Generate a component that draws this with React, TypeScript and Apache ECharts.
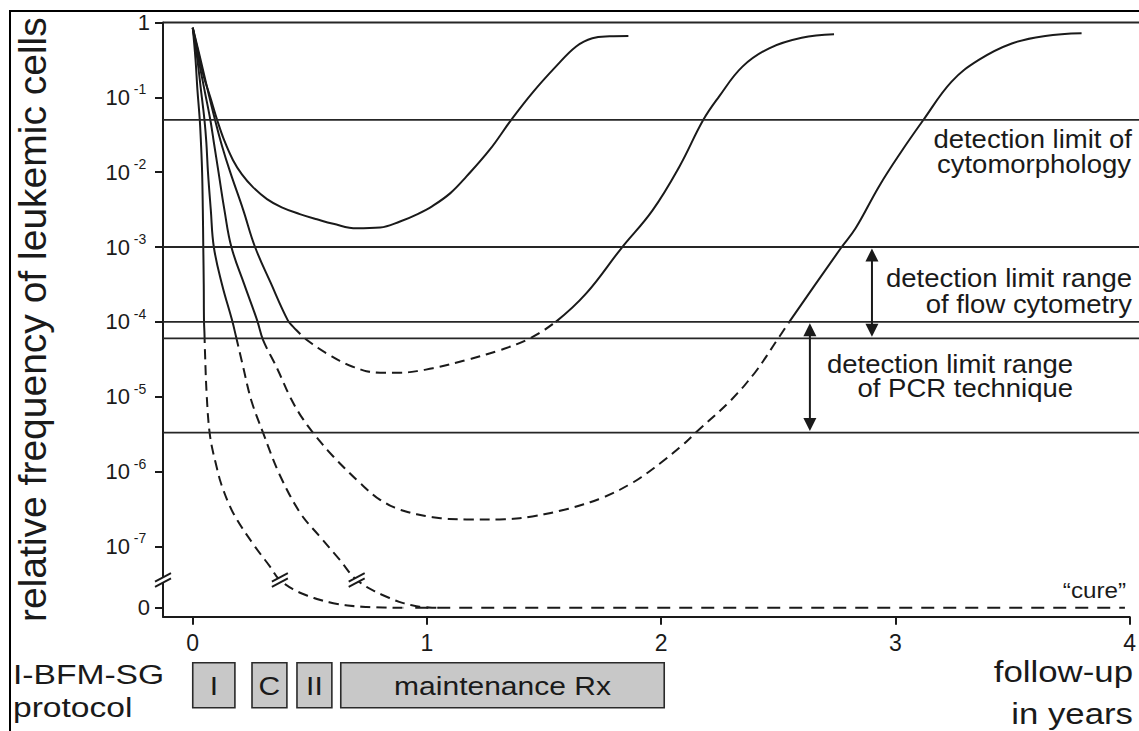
import React, { useEffect, useRef } from 'react';
import * as echarts from 'echarts';

// ---- axis setup (y values are log10 of the relative frequency; ZERO stands for "0") ----
const X_MIN = -0.127;
const X_MAX = 4;
const Y_MIN = -7.94;
const ZERO = -7.82;
const xTicks = [0, 1, 2, 3, 4];
const yTicks = [0, -1, -2, -3, -4, -5, -6, -7, ZERO];

// horizontal limit lines (log10 values)
const limitLevels = [0, -1.3, -3, -4, -4.22, -5.48];

// double arrows: [x, from, to]
const rangeArrows = [
  [2.9, -3, -4.22],
  [2.635, -4, -5.48],
];

// axis / curve break marks
const breakMarks = [
  [X_MIN, -7.45],
  [0.372, -7.45],
  [0.7, -7.45],
];

// treatment protocol phases [start, end]
const phaseRanges = [
  [0.0, 0.18],
  [0.253, 0.402],
  [0.445, 0.594],
  [0.632, 2.013],
];
const phaseLabels = ['I', 'C', 'II', 'maintenance Rx'];

// ---- curves (x in years, y = log10 frequency) ----
const curveA = [
  [0.0, -0.07], [0.02, -0.35], [0.045, -0.7], [0.075, -1.0], [0.104, -1.3], [0.135, -1.58],
  [0.172, -1.84], [0.21, -2.03], [0.257, -2.2], [0.317, -2.36], [0.38, -2.47], [0.457, -2.56],
  [0.53, -2.63], [0.6, -2.69], [0.7, -2.75], [0.8, -2.74], [0.885, -2.66], [0.96, -2.56],
  [1.025, -2.45], [1.1, -2.28], [1.168, -2.06], [1.268, -1.7], [1.36, -1.3], [1.45, -0.94],
  [1.55, -0.59], [1.637, -0.32], [1.706, -0.21], [1.78, -0.185], [1.86, -0.18],
];
const curveB = [
  [0.0, -0.07], [0.03, -0.45], [0.06, -0.85], [0.095, -1.3], [0.125, -1.65], [0.16, -2.0],
  [0.215, -2.5], [0.266, -3.0], [0.333, -3.48], [0.406, -3.98], [0.43, -4.07], [0.486, -4.24],
  [0.571, -4.42], [0.683, -4.6], [0.8, -4.68], [0.885, -4.68], [1.025, -4.62], [1.168, -4.51],
  [1.31, -4.38], [1.44, -4.22], [1.55, -4.0], [1.68, -3.62], [1.829, -3.02], [1.963, -2.51],
  [2.077, -1.93], [2.18, -1.3], [2.247, -0.99], [2.347, -0.59], [2.461, -0.345], [2.6, -0.205],
  [2.738, -0.158],
];
const curveC = [
  [0.0, -0.07], [0.025, -0.5], [0.05, -0.9], [0.075, -1.3], [0.09, -1.6], [0.11, -2.0],
  [0.135, -2.5], [0.165, -3.0], [0.22, -3.5], [0.275, -3.98], [0.3, -4.24], [0.36, -4.62],
  [0.415, -5.0], [0.46, -5.25], [0.513, -5.48], [0.6, -5.8], [0.713, -6.15], [0.8, -6.38],
  [0.885, -6.51], [1.025, -6.61], [1.17, -6.64], [1.31, -6.64], [1.45, -6.6], [1.6, -6.5],
  [1.75, -6.35], [1.878, -6.15], [2.0, -5.88], [2.09, -5.65], [2.148, -5.48], [2.3, -5.04],
  [2.4, -4.68], [2.5, -4.22], [2.547, -4.0], [2.766, -3.02], [2.83, -2.75], [2.93, -2.19],
  [3.02, -1.75], [3.12, -1.3], [3.24, -0.79], [3.356, -0.5], [3.497, -0.28], [3.64, -0.18],
  [3.795, -0.145],
];
const curveD = [
  [0.0, -0.07], [0.02, -0.5], [0.035, -0.9], [0.05, -1.3], [0.058, -1.6], [0.065, -2.0],
  [0.077, -2.5], [0.09, -3.0], [0.125, -3.5], [0.168, -3.98], [0.185, -4.2], [0.215, -4.6],
  [0.25, -5.05], [0.3, -5.48], [0.372, -6.05], [0.458, -6.55], [0.543, -6.87], [0.628, -7.18],
  [0.7, -7.45], [0.81, -7.65], [0.955, -7.8], [1.05, -7.82],
];
const curveE = [
  [0.0, -0.07], [0.012, -0.5], [0.02, -0.9], [0.03, -1.3], [0.035, -1.6], [0.04, -2.0],
  [0.043, -2.5], [0.045, -3.0], [0.047, -3.5], [0.048, -3.98], [0.05, -4.15], [0.052, -4.38],
  [0.06, -5.0], [0.074, -5.53], [0.102, -5.94], [0.125, -6.2], [0.172, -6.55], [0.258, -6.97],
  [0.33, -7.27], [0.372, -7.45], [0.458, -7.62], [0.6, -7.76], [0.74, -7.81], [0.9, -7.82],
];
// x-ranges of each curve drawn dashed (below the detection limit)
const dashedB = [0.43, 1.55];
const dashedC = [0.3, 2.547];
const dashedD = [0.185, 1.05];
const dashedE = [0.05, 0.9];
const cureLine = [
  [0.95, ZERO], [3.98, ZERO],
];

const FONT = "'Liberation Sans', Arial, Helvetica, sans-serif";
const INK = '#1a1a1a';
const SMOOTH = 0.4;

function curve(data: number[][]) {
  return {
    type: 'line',
    data,
    smooth: SMOOTH,
    symbol: 'none',
    silent: true,
    z: 3,
    lineStyle: { color: INK, width: 2, type: 'solid' },
  };
}

// white dashes laid over the same path turn the solid stroke into a dashed one
function dashMask(data: number[][], range: number[]) {
  return {
    type: 'line',
    data: data.filter((p) => p[0] >= range[0] - 1e-9 && p[0] <= range[1] + 1e-9),
    smooth: SMOOTH,
    symbol: 'none',
    silent: true,
    z: 4,
    lineStyle: { color: '#ffffff', width: 6, type: [6, 10], dashOffset: 6, cap: 'butt' },
  };
}

function txt(text: string, x: number, y: number, size: number, align: string, sx: number) {
  return {
    type: 'text',
    x,
    y,
    scaleX: sx,
    z: 20,
    style: {
      text,
      fontSize: size,
      fontFamily: FONT,
      fill: INK,
      align,
      verticalAlign: 'middle',
    },
  };
}

function fmtY(v: number) {
  if (Math.abs(v) < 1e-9) return '1';
  if (Math.abs(v - ZERO) < 1e-6) return '0';
  return '{b|10}{s|-' + Math.round(-v) + '}';
}

export default function App() {
  const ref = useRef<HTMLDivElement>(null);

  useEffect(() => {
    if (!ref.current) return;
    const chart = echarts.init(ref.current, null, { renderer: 'svg' });

    const option: any = {
      animation: false,
      backgroundColor: '#ffffff',
      grid: { left: 163, right: 8, top: 22.5, bottom: 114.3, containLabel: false },
      xAxis: {
        type: 'value',
        min: X_MIN,
        max: X_MAX,
        splitLine: { show: false },
        axisLine: { show: true, onZero: false, lineStyle: { color: INK, width: 2 } },
        axisTick: { show: true, length: 8, customValues: xTicks, lineStyle: { color: INK, width: 2 } },
        axisLabel: { customValues: xTicks, margin: 15, fontSize: 23, color: INK, fontFamily: FONT },
      },
      yAxis: {
        type: 'value',
        min: Y_MIN,
        max: 0,
        splitLine: { show: false },
        axisLine: { show: true, onZero: false, lineStyle: { color: INK, width: 2 } },
        axisTick: { show: true, length: 8, customValues: yTicks, lineStyle: { color: INK, width: 2 } },
        axisLabel: {
          customValues: yTicks,
          margin: 13,
          fontSize: 22,
          color: INK,
          fontFamily: FONT,
          formatter: fmtY,
          rich: {
            b: { fontSize: 22, fontFamily: FONT, color: INK },
            s: { fontSize: 14, padding: [0, 0, 16, 0], width: 20, align: 'left', fontFamily: FONT, color: INK },
          },
        },
        name: 'relative frequency of leukemic cells',
        nameLocation: 'middle',
        nameRotate: 90,
        nameGap: 111,
        nameTextStyle: { fontSize: 39, color: INK, fontFamily: FONT },
      },
      series: [
        curve(curveA),
        curve(curveB),
        curve(curveC),
        curve(curveD),
        curve(curveE),
        dashMask(curveB, dashedB),
        dashMask(curveC, dashedC),
        dashMask(curveD, dashedD),
        dashMask(curveE, dashedE),
        {
          type: 'line',
          data: cureLine,
          symbol: 'none',
          silent: true,
          z: 5,
          lineStyle: { color: INK, width: 2, type: [13, 9] },
        },
        // horizontal detection limit lines
        {
          type: 'custom',
          clip: false,
          silent: true,
          z: 6,
          data: limitLevels.map((v) => [X_MIN, v]),
          encode: { x: 0, y: 1 },
          renderItem: (params: any, api: any) => {
            const p = api.coord([api.value(0), api.value(1)]);
            return {
              type: 'line',
              shape: { x1: p[0], y1: p[1], x2: api.getWidth(), y2: p[1] },
              style: { stroke: '#262626', lineWidth: 1.8 },
            };
          },
        },
        // break marks
        {
          type: 'custom',
          clip: false,
          silent: true,
          z: 10,
          data: breakMarks,
          encode: { x: 0, y: 1 },
          renderItem: (params: any, api: any) => {
            const p = api.coord([api.value(0), api.value(1)]);
            const dx = 8, dy = 4.2, off = 2.6;
            return {
              type: 'group',
              children: [
                {
                  type: 'polygon',
                  shape: {
                    points: [
                      [p[0] - dx, p[1] + dy - off],
                      [p[0] + dx, p[1] - dy - off],
                      [p[0] + dx, p[1] - dy + off],
                      [p[0] - dx, p[1] + dy + off],
                    ],
                  },
                  style: { fill: '#ffffff' },
                },
                {
                  type: 'line',
                  shape: { x1: p[0] - dx, y1: p[1] + dy - off, x2: p[0] + dx, y2: p[1] - dy - off },
                  style: { stroke: INK, lineWidth: 2 },
                },
                {
                  type: 'line',
                  shape: { x1: p[0] - dx, y1: p[1] + dy + off, x2: p[0] + dx, y2: p[1] - dy + off },
                  style: { stroke: INK, lineWidth: 2 },
                },
              ],
            };
          },
        },
        // double arrows
        {
          type: 'custom',
          clip: false,
          silent: true,
          z: 10,
          data: rangeArrows,
          encode: { x: 0, y: [1, 2] },
          renderItem: (params: any, api: any) => {
            const a = api.coord([api.value(0), api.value(1)]);
            const b = api.coord([api.value(0), api.value(2)]);
            const x = a[0];
            const t = a[1] + 1.5;
            const u = b[1] - 1.5;
            const hl = 13, hw = 6.5;
            return {
              type: 'group',
              children: [
                {
                  type: 'line',
                  shape: { x1: x, y1: t + hl - 2, x2: x, y2: u - hl + 2 },
                  style: { stroke: INK, lineWidth: 2 },
                },
                {
                  type: 'polygon',
                  shape: { points: [[x, t], [x - hw, t + hl], [x + hw, t + hl]] },
                  style: { fill: INK },
                },
                {
                  type: 'polygon',
                  shape: { points: [[x, u], [x - hw, u - hl], [x + hw, u - hl]] },
                  style: { fill: INK },
                },
              ],
            };
          },
        },
        // protocol phases
        {
          type: 'custom',
          clip: false,
          silent: true,
          z: 10,
          data: phaseRanges.map((r) => [r[0], r[1], ZERO]),
          encode: { x: [0, 1], y: 2 },
          renderItem: (params: any, api: any) => {
            const x0 = api.coord([api.value(0), Y_MIN])[0];
            const x1 = api.coord([api.value(1), Y_MIN])[0];
            const base = api.coord([api.value(0), Y_MIN])[1];
            const top = base + 46;
            const h = 45;
            const cx = (x0 + x1) / 2;
            const cy = top + h / 2 + 1;
            return {
              type: 'group',
              children: [
                {
                  type: 'rect',
                  shape: { x: x0, y: top, width: x1 - x0, height: h },
                  style: { fill: '#c8c8c8', stroke: '#2a2a2a', lineWidth: 1.6 },
                },
                {
                  type: 'text',
                  x: cx,
                  y: cy,
                  scaleX: 1.2,
                  style: {
                    text: phaseLabels[params.dataIndex],
                    fontSize: 25,
                    fontFamily: FONT,
                    fill: INK,
                    align: 'center',
                    verticalAlign: 'middle',
                  },
                },
              ],
            };
          },
        },
      ],
      graphic: [
        {
          type: 'rect',
          z: 30,
          silent: true,
          shape: { x: 10, y: 11, width: 1400, height: 1000 },
          style: { fill: 'none', stroke: '#000', lineWidth: 2 },
        },
        txt('detection limit of', 1132, 139.5, 25, 'right', 1.1),
        txt('cytomorphology', 1131, 164.5, 25, 'right', 1.1),
        txt('detection limit range', 1132, 278, 25, 'right', 1.1),
        txt('of flow cytometry', 1132, 304.5, 25, 'right', 1.1),
        txt('detection limit range', 1073, 364.5, 25, 'right', 1.1),
        txt('of PCR technique', 1073, 388, 25, 'right', 1.1),
        txt('\u201ccure\u201d', 1126, 590.5, 22, 'right', 1.1),
        txt('I-BFM-SG', 13, 674, 28, 'left', 1.2),
        txt('protocol', 13, 707, 28, 'left', 1.2),
        txt('follow-up', 1133, 672, 29, 'right', 1.2),
        txt('in years', 1133, 714, 29, 'right', 1.2),
      ],
    };

    chart.setOption(option);
    return () => {
      chart.dispose();
    };
  }, []);

  return (
    <div
      ref={ref}
      style={{ position: 'fixed', left: 0, top: 0, width: 1139, height: 731, background: '#fff' }}
    />
  );
}
